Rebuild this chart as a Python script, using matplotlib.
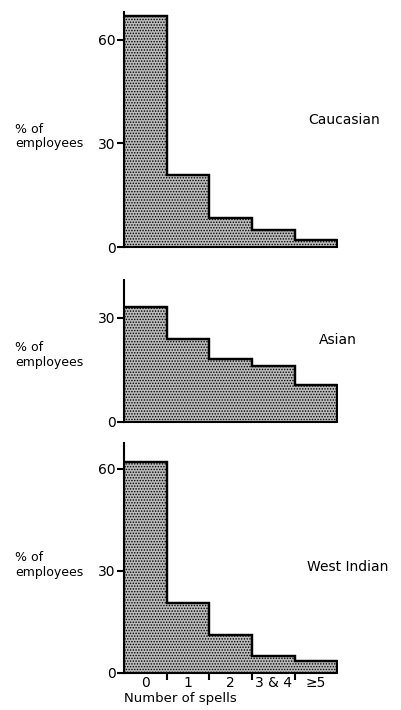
import numpy as np
import matplotlib
matplotlib.use("Agg")
import matplotlib.pyplot as plt

plt.rcParams['font.family'] = ['DejaVu Sans']
plt.rcParams['hatch.linewidth'] = 0.7

# data (% of employees by number of spells)
spell_labels = ["0", "1", "2", "3 & 4", "\u22655"]
caucasian = [67, 21, 8.5, 5, 2]
asian = [33, 24, 18, 16, 10.5]
west_indian = [62, 20.5, 11, 5, 3.5]

groups = ["Caucasian", "Asian", "West Indian"]
values = [caucasian, asian, west_indian]
yticks = [[0, 30, 60], [0, 30], [0, 30, 60]]
ylims = [68, 41, 67.5]

# axes boxes in figure fraction [left, bottom, width, height]
boxes = [[0.309, 0.652, 0.534, 0.331],
         [0.309, 0.406, 0.534, 0.200],
         [0.309, 0.0525, 0.534, 0.3235]]
ylab_y = [0.808, 0.500, 0.204]
grp_pos = [(0.948, 0.831), (0.89, 0.521), (0.968, 0.201)]

fig = plt.figure(figsize=(4.01, 7.10), dpi=100)
edges = np.arange(len(spell_labels) + 1)

for i in range(3):
    ax = fig.add_axes(boxes[i])
    ax.stairs(values[i], edges, fill=True, facecolor="#bcbcbc",
              edgecolor="black", linewidth=1.6, hatch="......")
    ax.stairs(values[i], edges, fill=False, color="black", linewidth=1.6,
              baseline=None)
    ax.set_xlim(0, 5.02)
    ax.set_ylim(0, ylims[i])
    for s in ["top", "right"]:
        ax.spines[s].set_visible(False)
    ax.spines["left"].set_linewidth(1.5)
    ax.spines["bottom"].set_linewidth(1.5)
    ax.spines["bottom"].set_bounds(0, 5)
    ax.set_yticks(yticks[i])
    ax.tick_params(axis="y", length=5, width=1.5, pad=1, labelsize=10)
    ax.set_xticks([])
    fig.text(0.037, ylab_y[i], "% of\nemployees", fontsize=9, ha="left", va="center",
             linespacing=1.15)
    fig.text(grp_pos[i][0], grp_pos[i][1], groups[i], fontsize=10, ha="right", va="center")
    if i == 2:
        ax.set_xticks(edges[1:-1], minor=True)
        ax.tick_params(axis="x", which="minor", length=5, width=1.5, direction="out")
        ax.set_xticks(edges[:-1] + 0.5)
        ax.set_xticklabels(spell_labels)
        ax.tick_params(axis="x", which="major", length=0, pad=2, labelsize=10)
        fig.text(0.449, 0.016, "Number of spells", fontsize=9.5, ha="center", va="center")

fig.savefig("out.png", dpi=100)
